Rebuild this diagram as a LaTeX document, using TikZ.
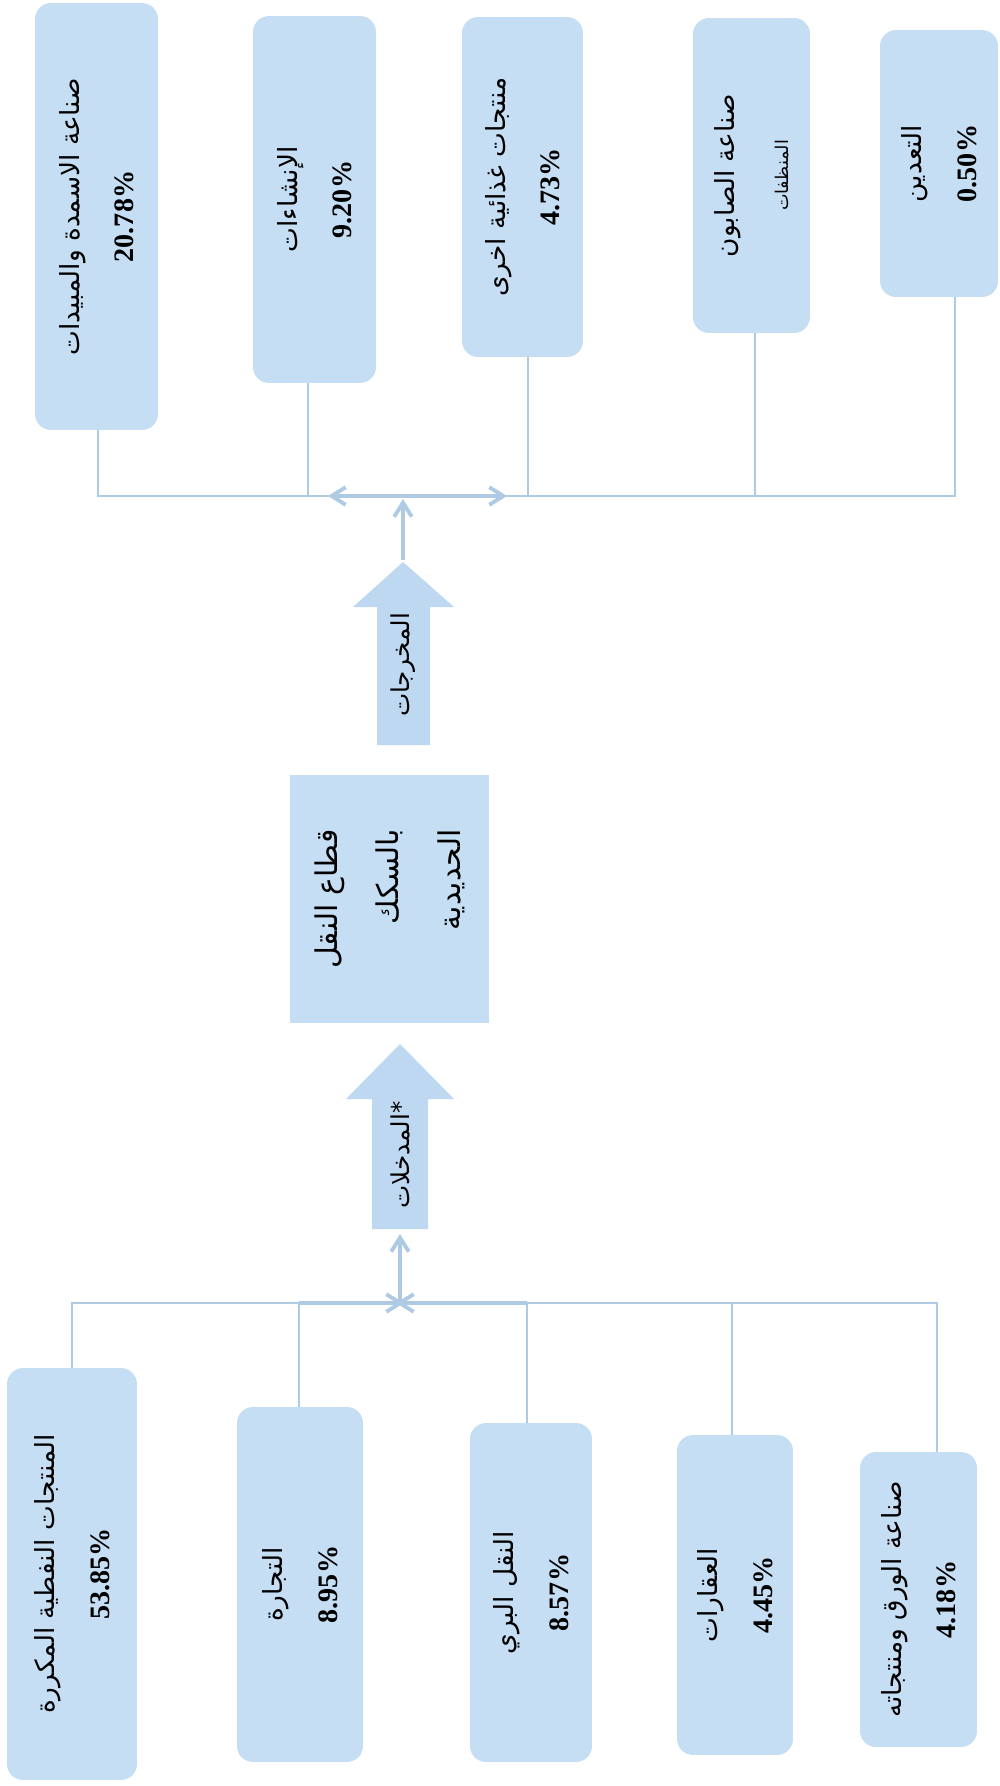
\documentclass[tikz,border=0pt]{standalone}
\usepackage{fontspec}
\usetikzlibrary{arrows.meta,calc}
\TeXXeTstate=1
\newfontfamily\arabicfont[Script=Arabic]{DejaVu Sans}
\newfontfamily\numfont{Liberation Serif}
\definecolor{boxblue}{HTML}{C6DEF3}
\definecolor{arrowblue}{HTML}{BDD8F0}
\definecolor{lineblue}{HTML}{AFCBE3}
\newcommand{\ar}[1]{{\arabicfont\beginR #1\endR}}
\newcommand{\pc}[1]{{\numfont\bfseries\fontsize{16}{31}\selectfont #1}}
\tikzset{
  obox/.style={fill=boxblue, draw=none, rounded corners=0.32cm, rotate=90, align=center, inner sep=2pt,
               font=\fontsize{15}{31}\selectfont},
  cbox/.style={fill=boxblue, draw=none, rotate=90, align=right, inner sep=2pt,
               font=\fontsize{17}{35}\selectfont},
  atext/.style={rotate=90, inner sep=1pt, font=\fontsize{14}{16}\selectfont},
  link/.style={draw=lineblue, line width=1.3pt},
  busarrow/.style={draw=lineblue, line width=2.2pt},
  tip/.style={-{Straight Barb[length=8pt,width=10pt]}},
  tips/.style={{Straight Barb[length=8pt,width=10pt]}-{Straight Barb[length=8pt,width=10pt]}}
}
\begin{document}
\begin{tikzpicture}[x=0.02cm, y=-0.02cm]
\useasboundingbox (0,0) rectangle (1000,1786);

% ---------- output boxes (top) ----------
\node[obox, minimum width=8.54cm, minimum height=2.46cm] (A1) at (96.5,216.5)
  {\ar{صناعة الاسمدة والمبيدات}\\ \pc{20.78\%}};
\node[obox, minimum width=7.34cm, minimum height=2.46cm] (A2) at (314.5,199.5)
  {\ar{الإنشاءات}\\ \pc{9.20\%}};
\node[obox, minimum width=6.80cm, minimum height=2.42cm] (A3) at (522.5,187)
  {\ar{منتجات غذائية اخرى}\\ \pc{4.73\%}};
\node[obox, minimum width=6.30cm, minimum height=2.34cm] (A4) at (751.5,175.5)
  {\ar{صناعة الصابون}\\ {\fontsize{10}{20}\selectfont\ar{المنظفات}}};
\node[obox, minimum width=5.34cm, minimum height=2.36cm] (A5) at (939,163.5)
  {\ar{التعدين}\\ \pc{0.50\%}};

% ---------- top bus ----------
\coordinate (t1) at (98,496);
\coordinate (t2) at (308,496);
\coordinate (t3) at (528,496);
\coordinate (t4) at (755,496);
\coordinate (t5) at (955,496);
\draw[link] (A1.west -| t1) -- (t1) -- (t5) -- (A5.west -| t5);
\draw[link] (A2.west -| t2) -- (t2);
\draw[link] (A3.west -| t3) -- (t3);
\draw[link] (A4.west -| t4) -- (t4);
\coordinate (tl) at (328,496);
\coordinate (tr) at (507,496);
\draw[busarrow, tips] (tl) -- (tr);

% ---------- outputs arrow ----------
\fill[arrowblue] (377,745) -- (377,607) -- (353,607) -- (403,562) -- (454,607) -- (430,607) -- (430,745) -- cycle;
\coordinate (otip) at (403,560);
\coordinate (tc) at (403,499);
\draw[busarrow, tip] (otip) -- (tc);
\node[atext] (outlbl) at (403,665) {\ar{المخرجات}};

% ---------- central sector ----------
\node[cbox, minimum width=4.96cm, minimum height=3.98cm] (C) at (389.5,899)
  {\ar{قطاع النقل}\\ \ar{بالسكك}\\ \ar{الحديدية}};

% ---------- inputs arrow ----------
\fill[arrowblue] (372,1229) -- (372,1099) -- (346,1099) -- (400,1044) -- (454,1099) -- (428,1099) -- (428,1229) -- cycle;
\node[atext] (inlbl) at (400,1155) {\ar{*المدخلات}};
\coordinate (itail) at (400,1234);

% ---------- bottom bus ----------
\coordinate (b1) at (72,1303);
\coordinate (b2) at (299,1303);
\coordinate (b3) at (527,1303);
\coordinate (b4) at (732,1303);
\coordinate (b5) at (937,1303);
\coordinate (bc) at (400,1303);
\coordinate (bcl) at (396,1303);
\coordinate (bcr) at (404,1303);

% ---------- input boxes (bottom) ----------
\node[obox, minimum width=8.24cm, minimum height=2.60cm] (B1) at (72,1574)
  {\ar{المنتجات النفطية المكررة}\\ \pc{53.85\%}};
\node[obox, minimum width=7.10cm, minimum height=2.52cm] (B2) at (300,1584.5)
  {\ar{التجارة}\\ \pc{8.95\%}};
\node[obox, minimum width=6.78cm, minimum height=2.44cm] (B3) at (531,1592.5)
  {\ar{النقل البري}\\ \pc{8.57\%}};
\node[obox, minimum width=6.40cm, minimum height=2.32cm] (B4) at (735,1595)
  {\ar{العقارات}\\ \pc{4.45\%}};
\node[obox, minimum width=5.90cm, minimum height=2.34cm] (B5) at (918.5,1599.5)
  {\ar{صناعة الورق ومنتجاته}\\ \pc{4.18\%}};

\draw[link] (B1.east -| b1) -- (b1) -- (b5) -- (B5.east -| b5);
\draw[link] (b2) -- (B2.east -| b2);
\draw[link] (b3) -- (B3.east -| b3);
\draw[link] (b4) -- (B4.east -| b4);
\draw[busarrow, tip] (b2) -- (bcr);
\draw[busarrow, tip] (b3) -- (bcl);
\draw[busarrow, tip] (bc) -- (itail);
\end{tikzpicture}
\end{document}
